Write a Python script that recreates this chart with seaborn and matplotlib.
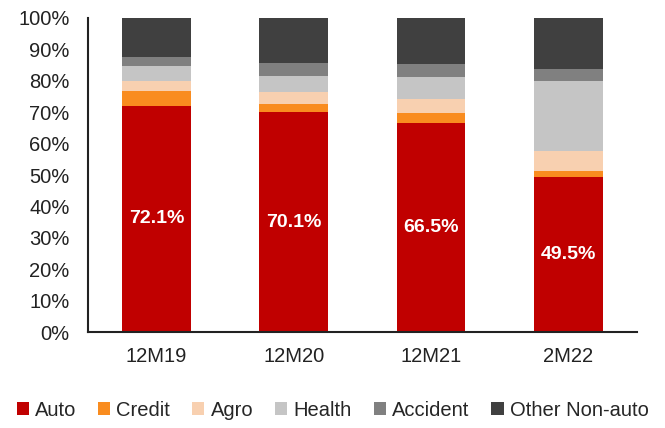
import numpy as np
import pandas as pd
import matplotlib
matplotlib.use("Agg")
import matplotlib.pyplot as plt
import seaborn as sns

# data (share of premiums, %)
periods = ["12M19", "12M20", "12M21", "2M22"]
auto = [72.1, 70.1, 66.5, 49.5]
credit = [4.8, 2.6, 3.3, 1.9]
agro = [3.1, 3.8, 4.3, 6.2]
health = [4.6, 5.0, 7.0, 22.4]
accident = [3.0, 4.2, 4.1, 3.6]
other = [12.4, 14.3, 14.8, 16.4]

series_names = ["Auto", "Credit", "Agro", "Health", "Accident", "Other Non-auto"]
series_vals = [auto, credit, agro, health, accident, other]
colors = ["#C00000", "#F98C1F", "#F8D0B0", "#C5C5C5", "#808080", "#404040"]

sns.set_theme(style="white")
plt.rcParams["font.family"] = ["Liberation Sans", "DejaVu Sans"]

fig = plt.figure(figsize=(6.65, 4.28), dpi=100)
ax = fig.add_axes([0.132, 0.224, 0.826, 0.734])

bottom = np.zeros(len(periods))
for name, vals, col in zip(series_names, series_vals, colors):
    sns.barplot(x=periods, y=vals, bottom=bottom, color=col, width=0.5,
                label=name, ax=ax, linewidth=0, saturation=1)
    bottom += np.array(vals)

# value labels inside the Auto segment
for i, v in enumerate(auto):
    ax.text(i, v / 2, f"{v:.1f}%", ha="center", va="center",
            color="white", fontsize=14, fontweight="bold")

ax.set_ylim(0, 100)
ax.set_xlim(-0.5, len(periods) - 0.5)
ax.set_yticks(range(0, 101, 10))
ax.set_yticklabels([f"{t}%" for t in range(0, 101, 10)], fontsize=14.5, color="#222222")
ax.set_xticks(range(len(periods)))
ax.set_xticklabels(periods, fontsize=14.5, color="#222222")
ax.set_xticks(np.arange(-0.5, len(periods), 1), minor=True)
ax.tick_params(axis="x", which="major", length=0, pad=11)
ax.tick_params(axis="x", which="minor", length=5, width=1.5, direction="out", color="#222222")
ax.tick_params(axis="y", length=5, width=1.5, direction="out", color="#222222", pad=8)
ax.set_xlabel("")
ax.set_ylabel("")

sns.despine(ax=ax)
for s in ["left", "bottom"]:
    ax.spines[s].set_color("#222222")
    ax.spines[s].set_linewidth(1.5)

ax.legend(loc="center", bbox_to_anchor=(0.5, 0.042), bbox_transform=fig.transFigure,
          ncol=6, frameon=False, fontsize=14.5, handlelength=0.6, handleheight=0.6,
          handletextpad=0.3, columnspacing=1.1, borderaxespad=0, borderpad=0)

fig.savefig("out.png", dpi=100)
